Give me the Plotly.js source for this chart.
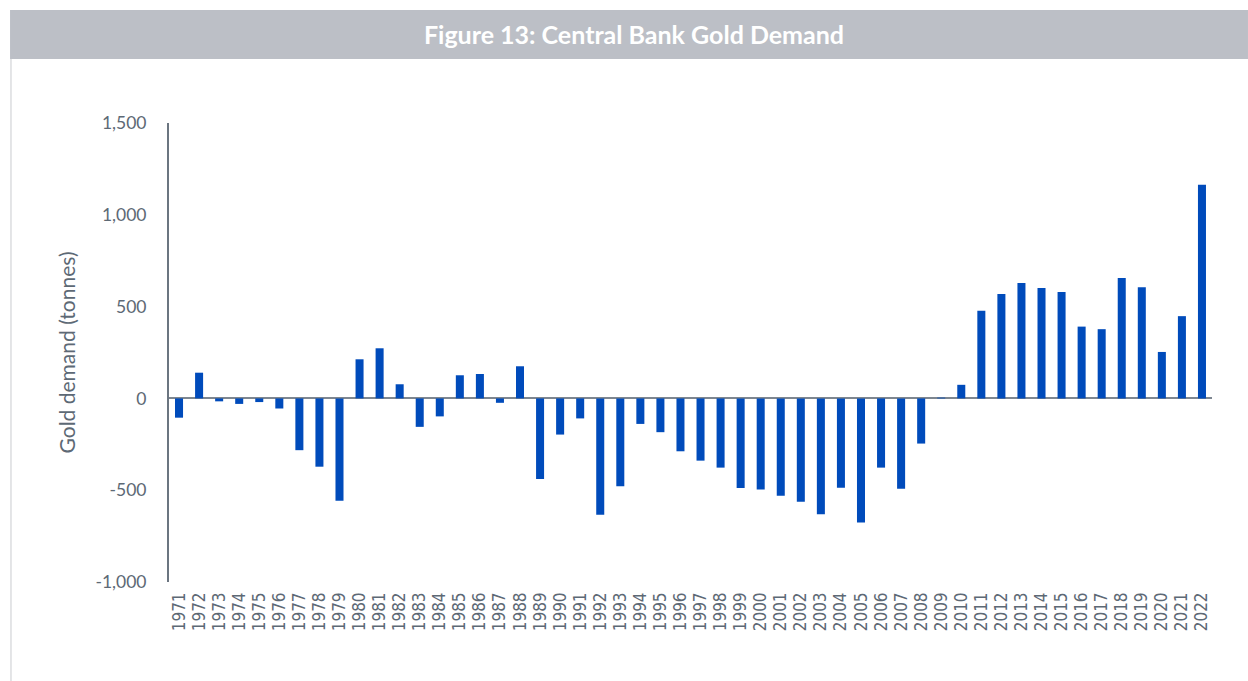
<!DOCTYPE html>
<html>
<head>
<meta charset="utf-8">
<script src="https://cdn.plot.ly/plotly-3.0.1.min.js"></script>
<style>
html,body{margin:0;padding:0;background:#fff;}
#chart{width:1248px;height:681px;}
</style>
</head>
<body>
<div id="chart"></div>
<script>
const years = ["1971","1972","1973","1974","1975","1976","1977","1978","1979","1980",
  "1981","1982","1983","1984","1985","1986","1987","1988","1989","1990",
  "1991","1992","1993","1994","1995","1996","1997","1998","1999","2000",
  "2001","2002","2003","2004","2005","2006","2007","2008","2009","2010",
  "2011","2012","2013","2014","2015","2016","2017","2018","2019","2020",
  "2021","2022"];
const demand = [-105, 140, -16, -30, -20, -55, -282, -372, -557, 213,
  273, 77, -155, -98, 126, 133, -24, 175, -439, -197,
  -109, -634, -479, -139, -184, -288, -339, -377, -488, -496,
  -530, -563, -631, -486, -676, -377, -492, -246, 4, 74,
  477, 568, 628, 601, 579, 391, 377, 656, 605, 253,
  448, 1164];
const yTicks = [-1000, -500, 0, 500, 1000, 1500];
const yTickText = ["-1,000", "-500", "0", "500", "1,000", "1,500"];

const axisGray = '#6b7580';
const textGray = '#5d6975';

const trace = {
  type: 'bar',
  x: years,
  y: demand,
  marker: {color: '#004bbb', line: {width: 0}},
  hoverinfo: 'x+y'
};

const layout = {
  width: 1248,
  height: 681,
  margin: {l: 169, r: 36, t: 123, b: 99},
  paper_bgcolor: '#ffffff',
  plot_bgcolor: '#ffffff',
  bargap: 0.6,
  showlegend: false,
  title: {
    text: 'Figure 13: Central Bank Gold Demand',
    font: {family: 'Lato, "Open Sans", sans-serif', size: 25, color: '#ffffff', weight: 'bold'},
    xref: 'paper', x: 0.4458, xanchor: 'center',
    yref: 'container', y: 0.948, yanchor: 'middle'
  },
  xaxis: {
    type: 'category',
    tickvals: years,
    ticktext: years,
    tickangle: -90,
    ticks: '',
    showline: false,
    showgrid: false,
    zeroline: false,
    ticklabelstandoff: 6,
    tickfont: {family: '"DejaVu Sans Condensed", "DejaVu Sans", sans-serif', size: 17, color: textGray},
    range: [-0.5, 51.5]
  },
  yaxis: {
    range: [-1000, 1500],
    tickvals: yTicks,
    ticktext: yTickText,
    ticks: '',
    showline: true,
    linecolor: axisGray,
    linewidth: 2,
    showgrid: false,
    zeroline: true,
    zerolinecolor: '#7d8690',
    zerolinewidth: 2,
    ticklabelstandoff: 17,
    tickfont: {family: 'Lato, sans-serif', size: 17.5, color: textGray},
    title: {
      text: 'Gold demand (tonnes)',
      font: {family: 'Lato, sans-serif', size: 21, color: textGray},
      standoff: 14
    }
  },
  shapes: [
    {type: 'rect', xref: 'paper', yref: 'paper', layer: 'below',
     x0: -0.1524, x1: 1.0345, y0: 1.1394, y1: 1.2462,
     fillcolor: '#bcbfc6', line: {width: 0}},
    {type: 'line', xref: 'paper', yref: 'paper', layer: 'below',
     x0: -0.1515, x1: -0.1515, y0: 1.1394, y1: -0.2157,
     line: {color: '#c9cbcf', width: 1}}
  ]
};

Plotly.newPlot('chart', [trace], layout, {displayModeBar: false, staticPlot: true});
</script>
</body>
</html>
